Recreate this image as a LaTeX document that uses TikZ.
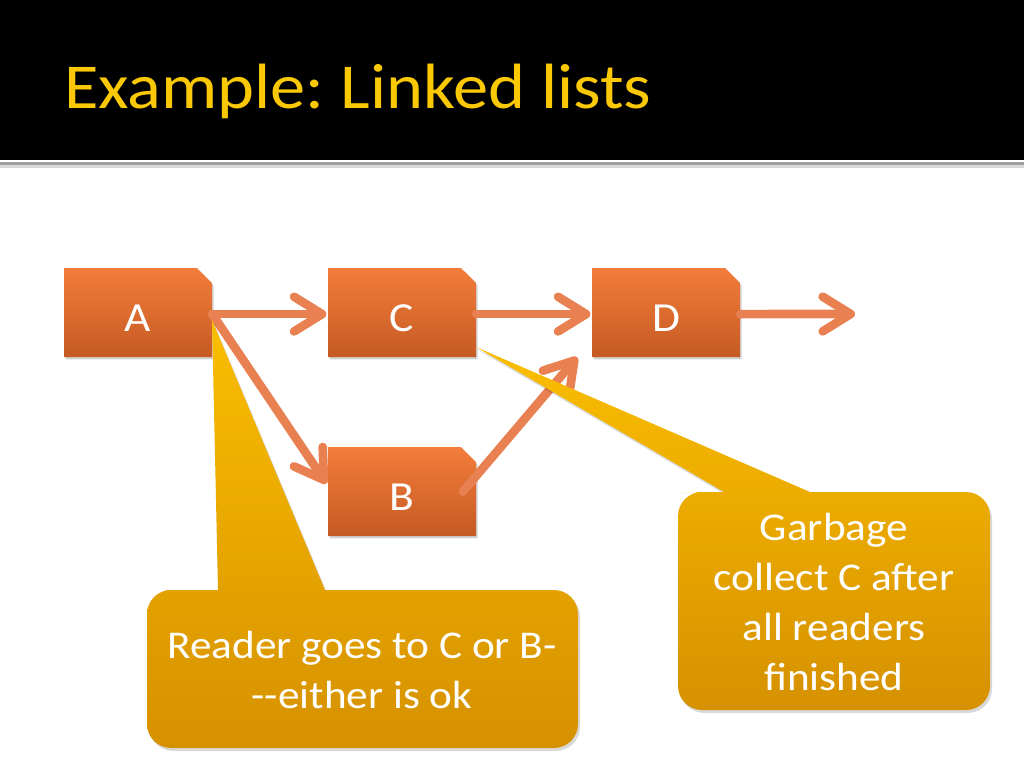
\documentclass[tikz,border=0pt]{standalone}
\usepackage{fontspec}
\setmainfont{Carlito}[FakeStretch=1.1]
\usetikzlibrary{arrows.meta}
\definecolor{titlegold}{RGB}{250,200,5}
\definecolor{boxtop}{RGB}{242,125,58}
\definecolor{boxbot}{RGB}{198,90,36}
\definecolor{arrowc}{RGB}{232,128,82}
\definecolor{calltop}{RGB}{250,190,0}
\definecolor{callbot}{RGB}{214,145,0}
\begin{document}
\frenchspacing
\begin{tikzpicture}[x=0.75pt,y=-0.75pt,
  boxnode/.style={minimum width=111pt,minimum height=66.75pt,inner sep=0pt},
  labtext/.style={inner sep=0pt,text=white,font=\fontsize{31}{36}\selectfont},
  boxshade/.style={top color=boxtop,bottom color=boxbot,preaction={fill=black,opacity=0.18,transform canvas={xshift=1.2pt,yshift=-1.8pt}}},
  arr/.style={draw=arrowc,line width=6.5pt,line cap=round,-{Straight Barb[length=21pt,width=26pt,round]}},
  callshade/.style={top color=calltop,bottom color=callbot,preaction={fill=black,opacity=0.15,transform canvas={xshift=1.5pt,yshift=-2.2pt}}},
  calltext/.style={text=white,align=center,font=\fontsize{29.5}{37.5}\selectfont,inner sep=0pt}]
\useasboundingbox (0,0) rectangle (1024,768);
% header
\fill[black] (0,0) rectangle (1024,160);
\fill[gray!75] (0,162) rectangle (1024,164.5);
\fill[gray!30] (0,164.5) rectangle (1024,167.5);
\node[anchor=base west,inner sep=0pt,text=titlegold,font=\fontsize{48}{58}\selectfont] (title) at (64,108) {Example: Linked lists};
% boxes
\newcommand{\snipbox}[4]{%
  \shade[boxshade] (#2,#3) -- ({#2+133},#3) -- ({#2+148},{#3+15}) -- ({#2+148},{#3+89}) -- (#2,{#3+89}) -- cycle;
  \node[boxnode] (#1) at ({#2+74},{#3+44.5}) {};
  \node[labtext] (#1t) at ([yshift=-4pt]#1.center) {#4};}
\snipbox{A}{64}{268}{A}
\snipbox{C}{328}{268}{C}
\snipbox{D}{592}{268}{D}
\snipbox{B}{328}{447}{B}
\coordinate (end) at (855,314);
% arrows
\draw[arr] ([yshift=-1.2pt]A.east) -- ([yshift=-1.2pt,xshift=-1pt]C.west);
\draw[arr] ([yshift=-1.2pt]C.east) -- ([yshift=-1.2pt,xshift=-1pt]D.west);
\draw[arr] ([yshift=-1.2pt]D.east) -- (end);
\draw[arr] ([yshift=-1.2pt]A.east) -- ([yshift=6pt,xshift=-1pt]B.west);
\draw[arr] ([xshift=-10pt]B.east) -- ([xshift=-11pt]D.south west);
% callouts
\shade[callshade] (147,670) [rounded corners=18pt] |- (190,590) [sharp corners] -- (218,590) -- (212,320) -- (325,590) [rounded corners=18pt] -| (578,748) -| (147,670) -- cycle;
\node[calltext] (note1) at (362,670) {Reader goes to C or B-\\-\kern0pt-either is ok};
\shade[callshade] (678,600) [rounded corners=18pt] |- (705,492) [sharp corners] -- (724,492) -- (476,347) -- (810,492) [rounded corners=18pt] -| (990,710) -| (678,600) -- cycle;
\node[calltext] (note2) at (834,602) {Garbage\\collect C after\\all readers\\finished};
\end{tikzpicture}
\end{document}
